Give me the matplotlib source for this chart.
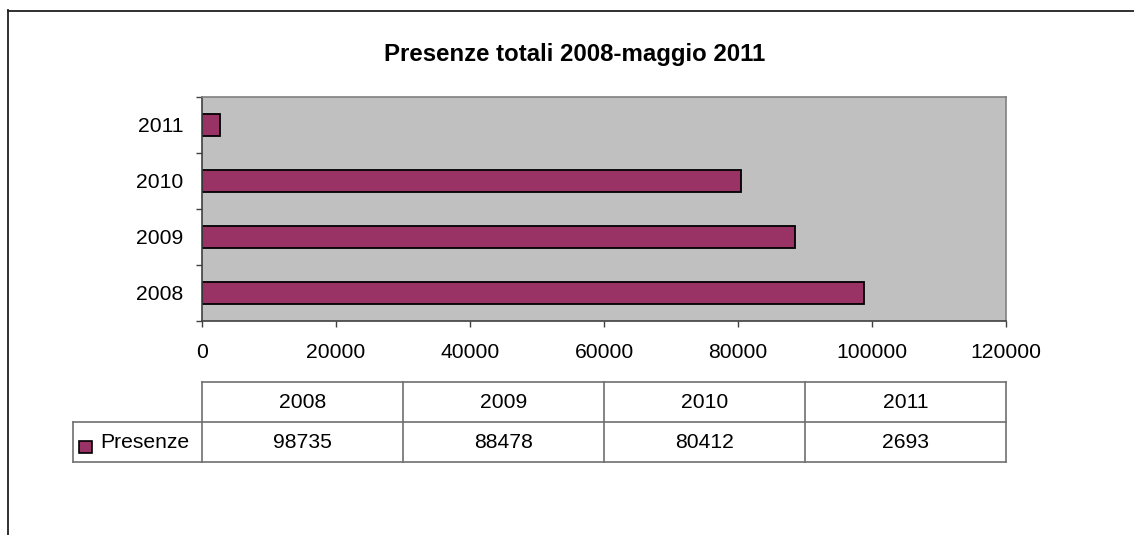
import numpy as np
import matplotlib.pyplot as plt
from matplotlib.patches import Rectangle
from matplotlib.lines import Line2D

plt.rcParams['font.family'] = ['Liberation Sans', 'DejaVu Sans']

# presenze per anno (2011 fino a maggio)
anni = ['2008', '2009', '2010', '2011']
presenze = [98735, 88478, 80412, 2693]
serie = 'Presenze'
x_ticks = [0, 20000, 40000, 60000, 80000, 100000, 120000]
titolo = 'Presenze totali 2008-maggio 2011'

bar_col = '#993366'
W, H = 1134, 535
fs = 15.2


def px(x0, y0, x1, y1):
    """pixel box (top-left origin) -> figure rect"""
    return [x0 / W, 1 - y1 / H, (x1 - x0) / W, (y1 - y0) / H]


fig = plt.figure(figsize=(W / 100, H / 100), dpi=100)

# --- grafico a barre orizzontali ---
ax = fig.add_axes(px(202, 97, 1006, 321))
ax.set_facecolor('#c0c0c0')
pos = np.arange(len(anni))
ax.barh(pos, presenze, height=0.4, color=bar_col, edgecolor='black', linewidth=1.3)
ax.set_xlim(0, x_ticks[-1])
ax.set_ylim(-0.5, len(anni) - 0.5)

ax.set_xticks(x_ticks)
ax.set_xticklabels([str(v) for v in x_ticks], fontsize=fs)
ax.tick_params(axis='x', direction='out', length=4.5, width=1, color='#404040', pad=11.5)

# tacche tra le categorie, etichette al centro
ax.set_yticks(np.arange(len(anni) + 1) - 0.5)
ax.set_yticklabels([])
ax.set_yticks(pos, minor=True)
ax.set_yticklabels(anni, minor=True, fontsize=fs)
ax.tick_params(axis='y', which='major', direction='out', length=4.5, width=1, color='#404040')
ax.tick_params(axis='y', which='minor', length=0, pad=13.5)

for s in ['left', 'bottom']:
    ax.spines[s].set_color('#404040')
    ax.spines[s].set_linewidth(1.2)
for s in ['top', 'right']:
    ax.spines[s].set_color('#808080')
    ax.spines[s].set_linewidth(1.2)

fig.text(575 / W, 1 - 54 / H, titolo, ha='center', va='center',
         fontsize=17.3, fontweight='bold')

# --- tabella dati sotto il grafico ---
tax = fig.add_axes(px(202, 382, 1006, 462))
tax.set_xlim(0, len(anni))
tax.set_ylim(0, 2)
tax.axis('off')
lc = '#707070'
x_leg = -129 / 201
n = len(anni)
tax.add_line(Line2D([0, n], [2, 2], color=lc, lw=1.2, clip_on=False))
for y in [1, 0]:
    tax.add_line(Line2D([x_leg, n], [y, y], color=lc, lw=1.2, clip_on=False))
for i in range(n + 1):
    tax.add_line(Line2D([i, i], [0, 2], color=lc, lw=1.2, clip_on=False))
tax.add_line(Line2D([x_leg, x_leg], [0, 1], color=lc, lw=1.2, clip_on=False))

for i, (a, v) in enumerate(zip(anni, presenze)):
    tax.text(i + 0.5, 1.5, a, ha='center', va='center', fontsize=fs)
    tax.text(i + 0.5, 0.5, str(v), ha='center', va='center', fontsize=fs)

tax.add_patch(Rectangle((-0.612, 0.225), 0.065, 0.3, facecolor=bar_col,
                        edgecolor='black', lw=1.2, clip_on=False))
tax.text(-0.505, 0.5, serie, ha='left', va='center', fontsize=fs)

# cornice esterna
fig.add_artist(Line2D([8 / W, 8 / W], [1 - 10 / H, 0], color='#202020', lw=1.3))
fig.add_artist(Line2D([8 / W, 1], [1 - 10.5 / H, 1 - 10.5 / H], color='#202020', lw=1.3))

fig.savefig('out.png', dpi=100, facecolor='white')
